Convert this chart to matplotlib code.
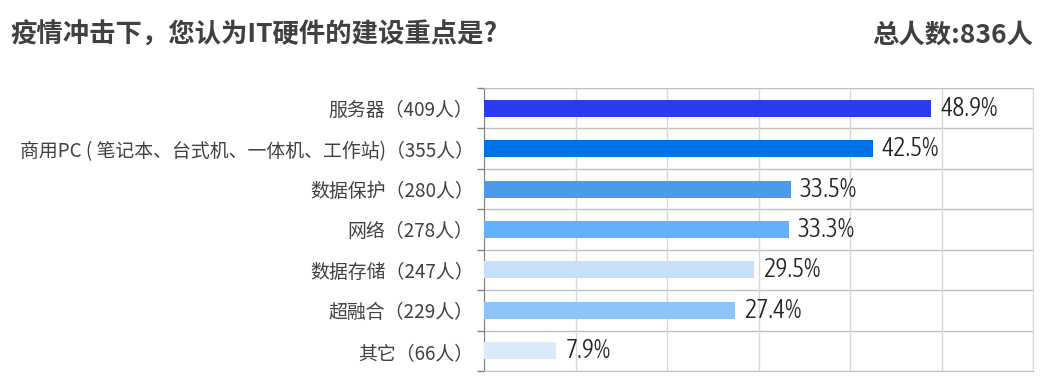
import matplotlib
matplotlib.use("Agg")
import matplotlib.pyplot as plt
from matplotlib import font_manager
from matplotlib.font_manager import FontProperties
from matplotlib.ticker import FixedLocator, MultipleLocator

categories = ["服务器（409人）", "商用PC ( 笔记本、台式机、一体机、工作站)（355人）",
              "数据保护（280人）", "网络（278人）", "数据存储（247人）",
              "超融合（229人）", "其它（66人）"]
values = [48.9, 42.5, 33.5, 33.3, 29.5, 27.4, 7.9]
value_labels = ["48.9%", "42.5%", "33.5%", "33.3%", "29.5%", "27.4%", "7.9%"]
colors = ["#2b3bef", "#0072e8", "#4c9be8", "#62b0ff", "#c6e0fc", "#8ec3fc", "#dcebfb"]
title = "疫情冲击下，您认为IT硬件的建设重点是?"
total = "总人数:836人"


def _w(f):
    w = f.weight
    if isinstance(w, str):
        w = {"light": 300, "normal": 400, "regular": 400, "book": 400}.get(w.lower(), 400)
    return w


# look for a condensed / narrow latin font (preferably light) for the value labels
cands = []
for f in font_manager.fontManager.ttflist:
    n = (f.name + " " + f.fname).lower()
    if ("narrow" in n or "condensed" in n or "condensed" in str(f.stretch).lower()) \
            and "bold" not in n and "oblique" not in n and "italic" not in n \
            and f.style == "normal":
        cands.append(f)
cands.sort(key=lambda f: (abs(_w(f) - 300), f.fname))
cand = cands[0] if cands else None
if cand is not None:
    val_fp = FontProperties(fname=cand.fname, size=18.6)
else:
    val_fp = FontProperties(family="Liberation Sans", size=15.5)

plt.rcParams['font.family'] = ['Noto Sans CJK SC', 'DejaVu Sans']

fig = plt.figure(figsize=(10.54, 3.87), dpi=100)
ax = fig.add_axes([484/1054, 1-371/387, (1033-484)/1054, (371-88)/387])

y = list(range(len(categories)))
ax.barh(y, values, height=0.42, color=colors, zorder=3)
ax.set_xlim(0, 60)
ax.set_ylim(len(categories)-0.5, -0.5)

ax.xaxis.set_major_locator(MultipleLocator(10))
ax.grid(axis='x', color='#d9d9d9', linewidth=1, zorder=0)
ax.set_xticklabels([])
ax.tick_params(axis='x', length=0)

ax.set_yticks(y)
ax.set_yticklabels(categories, fontsize=13.6, color='#404040')
ax.tick_params(axis='y', which='major', length=0, pad=7.5)
ax.yaxis.set_minor_locator(FixedLocator([i-0.5 for i in range(len(categories)+1)]))
ax.tick_params(axis='y', which='minor', length=5, color='#808080', width=1)
for b in [i-0.5 for i in range(len(categories)+1)]:
    ax.axhline(b, color='#bfbfbf', linewidth=1, zorder=1)

ax.spines['left'].set_color('#808080')
ax.spines['right'].set_color('#d9d9d9')
ax.spines['top'].set_color('#bfbfbf')
ax.spines['bottom'].set_color('#bfbfbf')

for yi, v, lab in zip(y, values, value_labels):
    ax.text(v + 1.0, yi, lab, va='center', ha='left', fontproperties=val_fp,
            color='#222222', zorder=4)

fig.text(10/1054, 1-35/387, title, fontsize=19, fontweight='bold', color='#404040',
         ha='left', va='center')
fig.text(1033/1054, 1-35/387, total, fontsize=19, fontweight='bold', color='#404040',
         ha='right', va='center')

fig.savefig("out.png", dpi=100)
